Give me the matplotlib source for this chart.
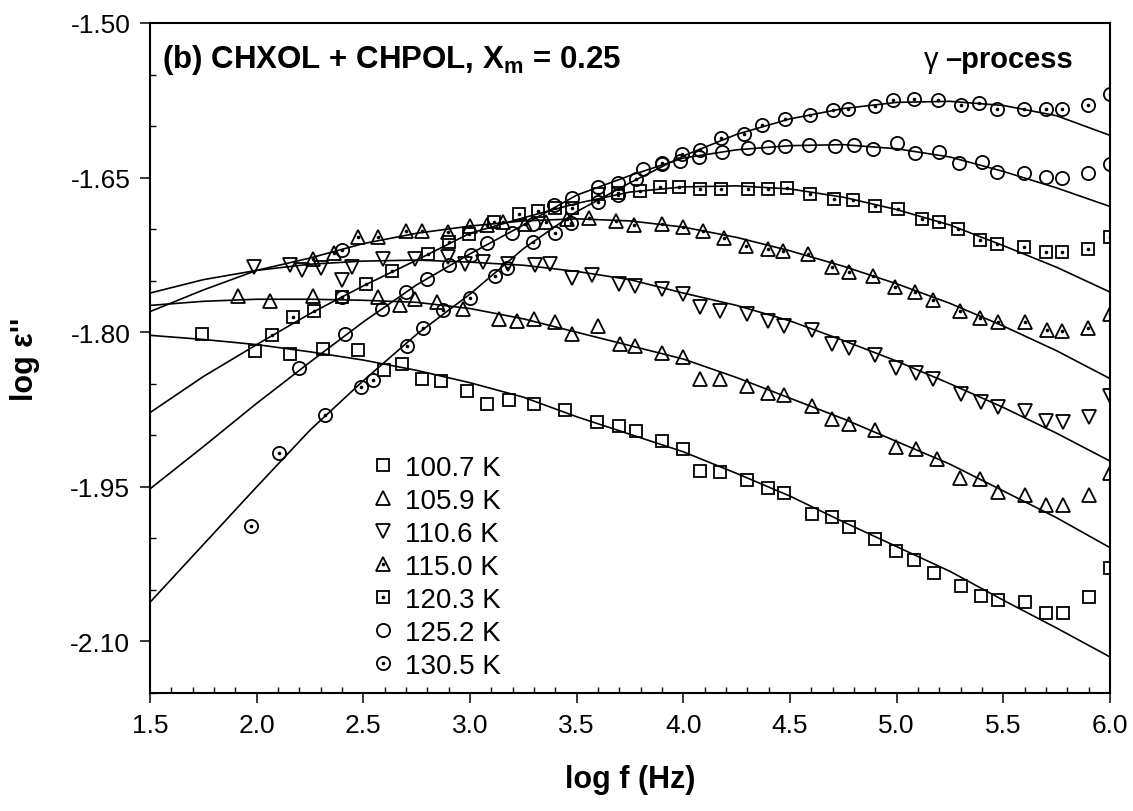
import matplotlib
matplotlib.use("Agg")
import matplotlib.pyplot as plt
from matplotlib.ticker import MultipleLocator, FormatStrFormatter

plt.rcParams['font.family'] = ['Liberation Sans', 'DejaVu Sans']
plt.rcParams['mathtext.default'] = 'regular'
plt.rcParams['axes.unicode_minus'] = False

# measured points, log f (Hz) vs log eps''
x_1007 = [1.742, 1.990, 2.156, 2.312, 2.477, 2.597, 2.680, 2.777, 2.863, 2.988,
          3.078, 3.185, 3.300, 3.446, 3.594, 3.699, 3.777, 3.902, 3.997, 4.079,
          4.172, 4.297, 4.396, 4.474, 4.602, 4.699, 4.777, 4.899, 4.997, 5.079,
          5.176, 5.301, 5.396, 5.477, 5.602, 5.699, 5.779, 5.902, 6.000]
y_1007 = [-1.802, -1.818, -1.821, -1.816, -1.817, -1.837, -1.831, -1.845, -1.847, -1.857,
          -1.870, -1.866, -1.870, -1.875, -1.887, -1.891, -1.896, -1.906, -1.913, -1.935,
          -1.936, -1.943, -1.951, -1.956, -1.976, -1.979, -1.989, -2.001, -2.012, -2.021,
          -2.034, -2.046, -2.056, -2.060, -2.062, -2.072, -2.072, -2.057, -2.029]

x_1059 = [1.914, 2.063, 2.263, 2.571, 2.672, 2.742, 2.846, 2.969, 3.138, 3.219,
          3.302, 3.399, 3.477, 3.602, 3.701, 3.775, 3.900, 3.997, 4.079, 4.172,
          4.297, 4.396, 4.474, 4.602, 4.699, 4.777, 4.899, 4.997, 5.090, 5.190,
          5.297, 5.391, 5.477, 5.602, 5.699, 5.779, 5.902, 6.000]
y_1059 = [-1.765, -1.770, -1.765, -1.766, -1.774, -1.768, -1.771, -1.777, -1.787, -1.789,
          -1.787, -1.790, -1.802, -1.794, -1.811, -1.813, -1.820, -1.824, -1.845, -1.845,
          -1.852, -1.859, -1.861, -1.872, -1.884, -1.889, -1.895, -1.911, -1.913, -1.923,
          -1.941, -1.942, -1.955, -1.958, -1.968, -1.968, -1.958, -1.937]

x_1106 = [1.989, 2.156, 2.214, 2.302, 2.398, 2.445, 2.594, 2.742, 2.899, 2.977,
          3.063, 3.180, 3.305, 3.375, 3.477, 3.570, 3.700, 3.774, 3.899, 3.997,
          4.079, 4.172, 4.297, 4.396, 4.474, 4.602, 4.699, 4.777, 4.899, 4.997,
          5.091, 5.172, 5.301, 5.396, 5.477, 5.602, 5.699, 5.779, 5.902, 6.000]
y_1106 = [-1.737, -1.735, -1.740, -1.738, -1.749, -1.737, -1.729, -1.729, -1.727, -1.734,
          -1.732, -1.734, -1.735, -1.734, -1.747, -1.744, -1.753, -1.755, -1.758, -1.763,
          -1.776, -1.779, -1.782, -1.789, -1.794, -1.798, -1.811, -1.815, -1.822, -1.835,
          -1.840, -1.845, -1.860, -1.868, -1.873, -1.876, -1.886, -1.887, -1.882, -1.862]

x_1150 = [2.263, 2.364, 2.477, 2.571, 2.700, 2.777, 2.899, 3.000, 3.082, 3.155,
          3.256, 3.354, 3.457, 3.557, 3.684, 3.769, 3.901, 3.998, 4.094, 4.191,
          4.294, 4.396, 4.469, 4.583, 4.699, 4.777, 4.891, 4.993, 5.086, 5.172,
          5.297, 5.391, 5.477, 5.602, 5.703, 5.777, 5.896, 6.000]
y_1150 = [-1.729, -1.723, -1.708, -1.708, -1.702, -1.702, -1.703, -1.697, -1.696, -1.693,
          -1.695, -1.693, -1.690, -1.689, -1.692, -1.696, -1.695, -1.698, -1.702, -1.709,
          -1.716, -1.719, -1.721, -1.724, -1.737, -1.742, -1.745, -1.756, -1.761, -1.769,
          -1.779, -1.786, -1.790, -1.790, -1.798, -1.799, -1.796, -1.782]

x_1203 = [2.070, 2.172, 2.270, 2.399, 2.513, 2.635, 2.805, 2.903, 2.997, 3.112,
          3.229, 3.320, 3.399, 3.479, 3.599, 3.692, 3.796, 3.891, 3.981, 4.079,
          4.176, 4.305, 4.396, 4.488, 4.594, 4.708, 4.794, 4.899, 5.008, 5.118,
          5.200, 5.289, 5.391, 5.472, 5.599, 5.699, 5.774, 5.899, 6.000]
y_1203 = [-1.803, -1.785, -1.779, -1.766, -1.753, -1.741, -1.724, -1.712, -1.705, -1.693,
          -1.685, -1.682, -1.679, -1.679, -1.666, -1.665, -1.663, -1.659, -1.659, -1.661,
          -1.661, -1.661, -1.661, -1.660, -1.666, -1.671, -1.672, -1.678, -1.680, -1.690,
          -1.693, -1.700, -1.711, -1.714, -1.717, -1.722, -1.722, -1.719, -1.708]

x_1252 = [2.197, 2.400, 2.412, 2.588, 2.700, 2.797, 2.903, 3.005, 3.078, 3.196,
          3.297, 3.396, 3.477, 3.600, 3.693, 3.809, 3.900, 3.985, 4.075, 4.180,
          4.305, 4.399, 4.477, 4.591, 4.711, 4.800, 4.891, 5.000, 5.086, 5.200,
          5.294, 5.399, 5.472, 5.599, 5.699, 5.774, 5.896, 6.000]
y_1252 = [-1.835, -1.766, -1.802, -1.777, -1.761, -1.748, -1.735, -1.725, -1.713, -1.704,
          -1.695, -1.677, -1.670, -1.659, -1.655, -1.642, -1.637, -1.634, -1.630, -1.625,
          -1.621, -1.620, -1.619, -1.618, -1.619, -1.618, -1.622, -1.616, -1.626, -1.625,
          -1.636, -1.635, -1.645, -1.646, -1.649, -1.650, -1.646, -1.637]

x_1305 = [1.972, 2.106, 2.320, 2.400, 2.488, 2.547, 2.703, 2.779, 2.872, 2.998,
          3.115, 3.175, 3.296, 3.398, 3.475, 3.602, 3.695, 3.779, 3.899, 3.993,
          4.077, 4.176, 4.285, 4.368, 4.477, 4.594, 4.700, 4.774, 4.899, 4.985,
          5.083, 5.192, 5.302, 5.387, 5.472, 5.599, 5.699, 5.774, 5.899, 6.000]
y_1305 = [-1.988, -1.917, -1.880, -1.720, -1.853, -1.846, -1.813, -1.796, -1.778, -1.767,
          -1.745, -1.738, -1.712, -1.704, -1.694, -1.674, -1.667, -1.651, -1.636, -1.627,
          -1.623, -1.612, -1.608, -1.599, -1.593, -1.589, -1.584, -1.583, -1.581, -1.575,
          -1.574, -1.575, -1.580, -1.578, -1.583, -1.583, -1.583, -1.583, -1.580, -1.569]

# fitted curves on a 0.25 grid
fit_x = [1.50, 1.75, 2.00, 2.25, 2.50, 2.75, 3.00, 3.25, 3.50, 3.75,
         4.00, 4.25, 4.50, 4.75, 5.00, 5.25, 5.50, 5.75, 6.00]
fit_1007 = [-1.803, -1.807, -1.812, -1.819, -1.827, -1.837, -1.849, -1.863, -1.882, -1.899,
            -1.916, -1.937, -1.959, -1.984, -2.008, -2.032, -2.060, -2.087, -2.115]
fit_1059 = [-1.774, -1.770, -1.768, -1.768, -1.769, -1.771, -1.777, -1.787, -1.800, -1.813,
            -1.826, -1.844, -1.864, -1.884, -1.906, -1.928, -1.954, -1.980, -2.009]
fit_1106 = [-1.762, -1.749, -1.740, -1.734, -1.731, -1.730, -1.732, -1.735, -1.741, -1.749,
            -1.762, -1.774, -1.789, -1.808, -1.828, -1.850, -1.873, -1.898, -1.925]
fit_1150 = [-1.780, -1.759, -1.740, -1.728, -1.714, -1.704, -1.697, -1.692, -1.690, -1.692,
            -1.698, -1.708, -1.721, -1.736, -1.753, -1.772, -1.794, -1.818, -1.845]
fit_1203 = [-1.878, -1.843, -1.812, -1.782, -1.755, -1.730, -1.704, -1.689, -1.675, -1.664,
            -1.659, -1.658, -1.661, -1.669, -1.681, -1.696, -1.716, -1.737, -1.761]
fit_1252 = [-1.952, -1.911, -1.869, -1.829, -1.790, -1.754, -1.724, -1.696, -1.667, -1.648,
            -1.631, -1.623, -1.619, -1.618, -1.622, -1.630, -1.644, -1.660, -1.678]
fit_1305 = [-2.062, -2.006, -1.950, -1.895, -1.847, -1.802, -1.763, -1.719, -1.683, -1.655,
            -1.629, -1.608, -1.593, -1.583, -1.577, -1.576, -1.580, -1.590, -1.609]

labels = ["100.7 K", "105.9 K", "110.6 K", "115.0 K", "120.3 K", "125.2 K", "130.5 K"]
xs = [x_1007, x_1059, x_1106, x_1150, x_1203, x_1252, x_1305]
ys = [y_1007, y_1059, y_1106, y_1150, y_1203, y_1252, y_1305]
fits = [fit_1007, fit_1059, fit_1106, fit_1150, fit_1203, fit_1252, fit_1305]
# (marker, size, dotted centre)
styles = [("s", 8.5, False), ("^", 10.5, False), ("v", 10.5, False), ("^", 10.5, True),
          ("s", 8.5, True), ("o", 9.5, False), ("o", 9.5, True)]

fig = plt.figure(figsize=(11.33, 8.12), dpi=100)
ax = fig.add_axes([150 / 1133, 1 - 694 / 812, 960 / 1133, 670 / 812])

for fy in fits:
    ax.plot(fit_x, fy, color="black", lw=1.2, zorder=2)

handles = []
for x, y, (m, ms, dot) in zip(xs, ys, styles):
    h = ax.plot(x, y, ls="none", marker=m, ms=ms, mfc="none", mec="black", mew=1.3, zorder=3)[0]
    if dot:
        d = ax.plot(x, y, ls="none", marker="o", ms=2.6, mfc="black", mec="black", mew=0, zorder=4)[0]
        handles.append((h, d))
    else:
        handles.append(h)

ax.set_xlim(1.5, 6.0)
ax.set_ylim(-2.15, -1.50)
ax.xaxis.set_major_locator(MultipleLocator(0.5))
ax.xaxis.set_minor_locator(MultipleLocator(0.1))
ax.yaxis.set_major_locator(MultipleLocator(0.15))
ax.yaxis.set_minor_locator(MultipleLocator(0.05))
ax.xaxis.set_major_formatter(FormatStrFormatter("%.1f"))
ax.yaxis.set_major_formatter(FormatStrFormatter("%.2f"))
ax.tick_params(which="major", direction="out", length=7.2, width=1.1, labelsize=19, pad=7)
ax.tick_params(which="minor", direction="in", length=4.3, width=1.0)
for sp in ax.spines.values():
    sp.set_linewidth(1.5)

ax.set_xlabel("log f (Hz)", fontsize=22, fontweight="bold", labelpad=20)
ax.set_ylabel("log ε''", fontsize=22, fontweight="bold")
ax.yaxis.set_label_coords(-0.115, 0.5)

ax.text(0.0125, 0.934, "(b) CHXOL + CHPOL, X$_{m}$ = 0.25", transform=ax.transAxes,
        fontsize=22.5, fontweight="bold", ha="left", va="baseline")

# "γ –process": gamma in regular weight, the rest bold
proc = ax.text(0.9615, 0.934, "–process", transform=ax.transAxes,
               fontsize=21, fontweight="bold", ha="right", va="baseline")
renderer = fig.canvas.get_renderer()
bb = proc.get_window_extent(renderer)
gx = ax.transAxes.inverted().transform((bb.x0 - 7, bb.y0))[0]
ax.text(gx, 0.934, "γ", transform=ax.transAxes, fontsize=21, ha="right", va="baseline")

ax.legend(handles, labels, loc="upper left", bbox_to_anchor=(0.228, 0.355),
          frameon=False, fontsize=20, handlelength=1.0, handletextpad=0.3,
          labelspacing=0.25, borderpad=0, borderaxespad=0)

fig.savefig("out.png", dpi=100)
